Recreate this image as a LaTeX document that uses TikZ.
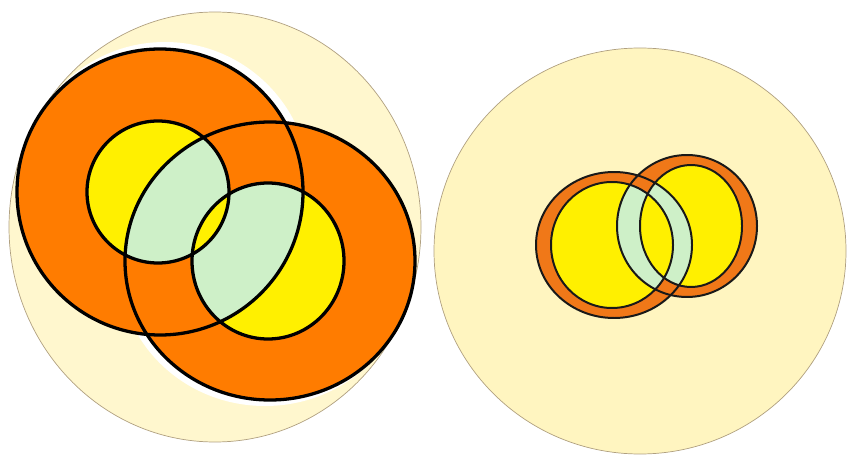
\documentclass[tikz,border=0pt]{standalone}
\usepackage{xcolor}
\usepackage{tikz}

\begin{document}
\begin{tikzpicture}[
    x=0.03cm, y=-0.03cm,
    plate/.style={fill=plateFill, draw=plateEdge, line width=0.6pt},
    halo/.style={fill=white},
    ringfill/.style={fill=ringOrange},
    corefill/.style={fill=coreYellow},
    mixfill/.style={fill=mixGreen},
    rimthick/.style={draw=black, line width=2.8pt},
    rimthin/.style={draw=black!90, line width=1.7pt}
  ]
    \definecolor{plateFill}{RGB}{255,247,206}
    \definecolor{plateFillB}{RGB}{255,245,192}
    \definecolor{plateEdge}{RGB}{176,160,128}
    \definecolor{ringOrange}{RGB}{255,124,0}
    \definecolor{ringOrangeB}{RGB}{240,120,24}
    \definecolor{coreYellow}{RGB}{255,240,0}
    \definecolor{mixGreen}{RGB}{206,240,200}

    \useasboundingbox (0,0) rectangle (850,455);

    % left plate
    \path[plate] (215,227) ellipse [x radius=206, y radius=215];
    \fill[halo] (165,187) ellipse [x radius=145, y radius=145];
    \fill[halo] (265,266) ellipse [x radius=146, y radius=140];

    \fill[ringfill] (160,192) ellipse [x radius=143, y radius=143];
    \fill[ringfill] (270,261) ellipse [x radius=145, y radius=139];
    \fill[corefill] (158,192) ellipse [x radius=71, y radius=71];
    \fill[corefill] (268,261) ellipse [x radius=76, y radius=78];
    \begin{scope}
      \clip (158,192) ellipse [x radius=71, y radius=71];
      \fill[mixfill] (270,261) ellipse [x radius=145, y radius=139];
      \fill[corefill] (268,261) ellipse [x radius=76, y radius=78];
    \end{scope}
    \begin{scope}
      \clip (268,261) ellipse [x radius=76, y radius=78];
      \fill[mixfill] (160,192) ellipse [x radius=143, y radius=143];
      \clip (158,192) ellipse [x radius=71, y radius=71];
      \fill[corefill] (268,261) ellipse [x radius=76, y radius=78];
    \end{scope}

    \draw[rimthick] (160,192) ellipse [x radius=143, y radius=143];
    \draw[rimthick] (270,261) ellipse [x radius=145, y radius=139];
    \draw[rimthick] (158,192) ellipse [x radius=71, y radius=71];
    \draw[rimthick] (268,261) ellipse [x radius=76, y radius=78];

    % right plate
    \path[plate, fill=plateFillB] (640,251) ellipse [x radius=206, y radius=203];

    \fill[ringfill, fill=ringOrangeB] (614,245) ellipse [x radius=78, y radius=73];
    \fill[ringfill, fill=ringOrangeB] (687,226) ellipse [x radius=70, y radius=71];
    \fill[corefill] (612,245) ellipse [x radius=61, y radius=63];
    \fill[corefill] (691,226) ellipse [x radius=51, y radius=61];
    \begin{scope}
      \clip (612,245) ellipse [x radius=61, y radius=63];
      \fill[mixfill] (687,226) ellipse [x radius=70, y radius=71];
      \fill[corefill] (691,226) ellipse [x radius=51, y radius=61];
    \end{scope}
    \begin{scope}
      \clip (691,226) ellipse [x radius=51, y radius=61];
      \fill[mixfill] (614,245) ellipse [x radius=78, y radius=73];
      \clip (612,245) ellipse [x radius=61, y radius=63];
      \fill[corefill] (691,226) ellipse [x radius=51, y radius=61];
    \end{scope}

    \draw[rimthin] (614,245) ellipse [x radius=78, y radius=73];
    \draw[rimthin] (687,226) ellipse [x radius=70, y radius=71];
    \draw[rimthin] (612,245) ellipse [x radius=61, y radius=63];
    \draw[rimthin] (691,226) ellipse [x radius=51, y radius=61];
  \end{tikzpicture}
\end{document}
